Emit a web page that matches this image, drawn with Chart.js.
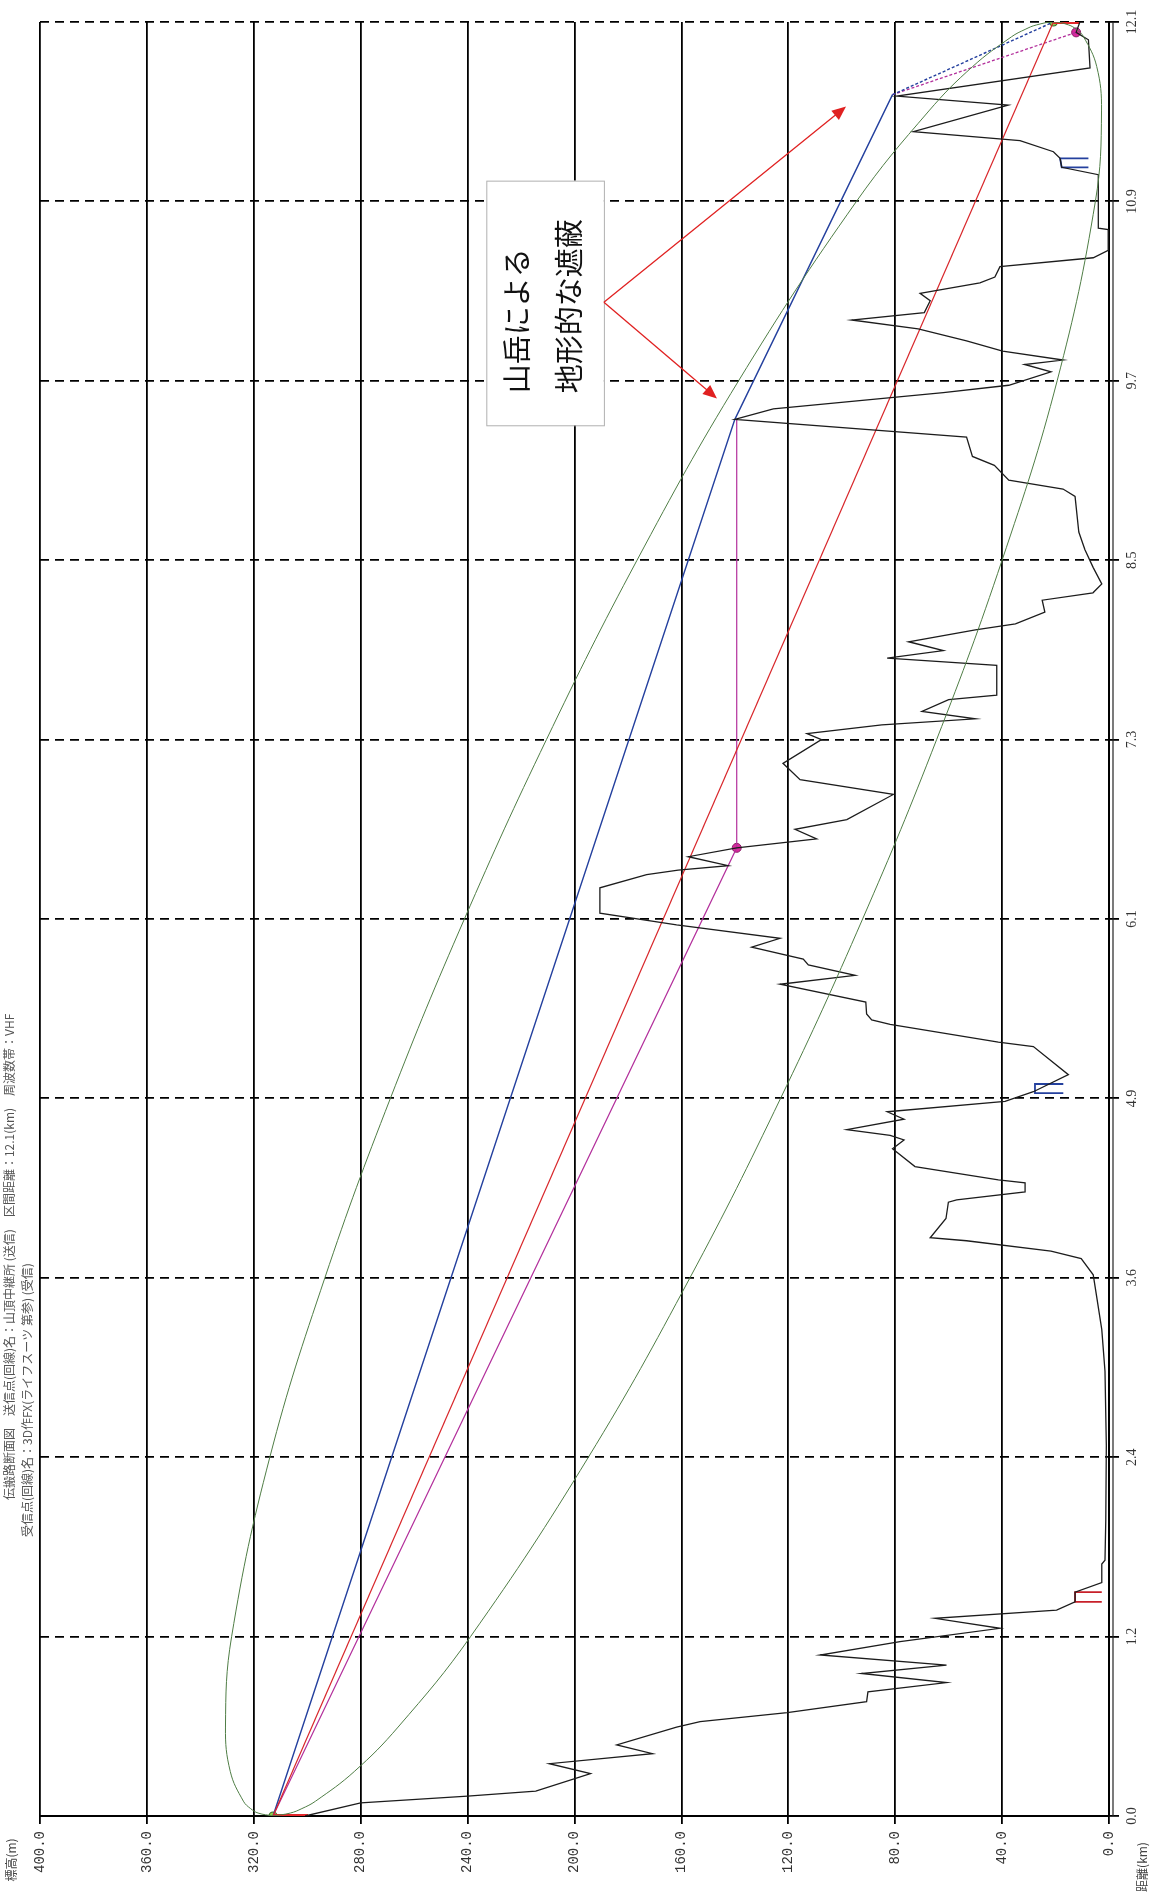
<!DOCTYPE html>
<html>
<head>
<meta charset="utf-8">
<script src="https://cdn.jsdelivr.net/npm/chart.js@4.4.1/dist/chart.umd.min.js"></script>
<style>
  html, body { margin: 0; padding: 0; background: #fff; }
  #wrap { width: 1160px; height: 1894px; position: relative; }
</style>
</head>
<body>
<div id="wrap"><canvas id="profileChart"></canvas></div>
<script>
// axes (chart is printed turned on its side: elevation runs left->right, distance bottom->top)
const elevTicks = [400, 360, 320, 280, 240, 200, 160, 120, 80, 40, 0];
const distTicks = [0, 1.21, 2.42, 3.63, 4.84, 6.05, 7.26, 8.47, 9.68, 10.89, 12.1];
const distTickLabels = ['0.0', '1.2', '2.4', '3.6', '4.9', '6.1', '7.3', '8.5', '9.7', '10.9', '12.1'];

// terrain profile
const profileDist = [0, 0.089, 0.134, 0.168, 0.286, 0.353, 0.42, 0.48, 0.60, 0.636, 0.697, 0.771, 0.837, 0.90, 0.961, 1.018, 1.086, 1.176, 1.266, 1.333, 1.388, 1.444, 1.51, 1.574, 1.70, 1.725, 2.0, 2.5, 3.0, 3.28, 3.49, 3.65, 3.76, 3.81, 3.88, 3.90, 4.03, 4.14, 4.155, 4.21, 4.27, 4.29, 4.38, 4.50, 4.56, 4.59, 4.63, 4.70, 4.75, 4.82, 4.885, 5.0, 5.19, 5.22, 5.34, 5.37, 5.41, 5.49, 5.61, 5.67, 5.74, 5.78, 5.86, 5.92, 6.01, 6.09, 6.26, 6.35, 6.38, 6.41, 6.47, 6.53, 6.59, 6.655, 6.72, 6.89, 6.99, 7.10, 7.26, 7.30, 7.36, 7.40, 7.45, 7.53, 7.56, 7.76, 7.81, 7.86, 7.92, 8.0, 8.04, 8.12, 8.20, 8.25, 8.31, 8.42, 8.54, 8.66, 8.90, 8.95, 9.01, 9.11, 9.17, 9.30, 9.42, 9.49, 9.60, 9.65, 9.74, 9.79, 9.82, 9.88, 9.95, 10.03, 10.09, 10.14, 10.22, 10.27, 10.34, 10.38, 10.45, 10.51, 10.56, 10.70, 10.71, 11.07, 11.12, 11.18, 11.225, 11.30, 11.36, 11.54, 11.60, 11.79, 11.98, 12.03, 12.1];
const profileElev = [300.8, 280, 240, 214.5, 194, 209.4, 170.8, 184.2, 161.8, 153.0, 120.4, 90.7, 90.2, 60.8, 92.6, 60.8, 108.1, 78.2, 40.8, 65.1, 19.6, 12.7, 12.7, 2.7, 2.7, 1.5, 1.2, 1.0, 1.5, 2.7, 4.5, 5.9, 10.4, 21.7, 53.3, 66.9, 61.0, 60.1, 57.0, 31.4, 31.4, 41.4, 72.6, 81.0, 76.7, 81.9, 98.1, 76.7, 83.0, 38.9, 28.3, 15.2, 28.3, 41.4, 81.9, 88.8, 90.7, 91.0, 123.1, 95.0, 112.5, 114.4, 133.7, 123.1, 161.8, 190.5, 190.5, 173.0, 161.2, 142.5, 157.4, 139.3, 109.4, 117.5, 98.1, 80.7, 115.6, 122, 107.6, 113, 85, 50, 70, 60, 42, 42, 83, 62, 75, 50, 35, 24, 25, 6, 2.7, 5.9, 9, 11.3, 12.7, 17.2, 37.5, 42.9, 51.1, 53.3, 140.0, 125.6, 62, 37.5, 21.7, 31.6, 17.2, 39.8, 53.3, 71.4, 96.3, 69.1, 66.9, 70.7, 48.3, 42.7, 40.8, 5.9, 0.3, 0.3, 4.0, 4.0, 17.7, 18.3, 20.8, 33.3, 73.2, 37.7, 79.4, 7.1, 7.7, 12.3, 10.9];

// green clearance ellipse, traced as one closed loop (upper side out, lower side back)
const fresnelDist = [0, 0.02, 0.05, 0.1, 0.3, 0.6, 1.21, 2.42, 3.63, 4.84, 6.05, 7.26, 8.47, 9.68, 10.89, 11.5, 11.8, 12.0, 12.05, 12.08, 12.1,
  12.08, 12.05, 12.0, 11.8, 11.5, 10.89, 9.68, 8.47, 7.26, 6.05, 4.84, 3.63, 2.42, 1.21, 0.6, 0.3, 0.1, 0.05, 0.02, 0];
const fresnelElev = [312.8, 318.4, 321.2, 323.9, 328.8, 330.6, 328.3, 314.0, 293.4, 268.9, 241.2, 210.5, 176.6, 138.6, 94.5, 67.4, 51.0, 36.5, 31.4, 27.2, 20.6,
  15.1, 12.2, 9.5, 4.6, 2.8, 5.1, 19.4, 40.0, 64.5, 92.2, 122.9, 156.8, 194.8, 238.9, 266.0, 282.4, 296.9, 302.0, 306.3, 312.8];

// path lines
const losDist = [0, 12.1];
const losElev = [312.8, 20.8];
const bluePathDist = [0, 9.42, 11.61];
const bluePathElev = [312.8, 140.0, 81.0];
const blueTailDist = [11.61, 12.1];
const blueTailElev = [81.0, 20.8];
const magentaPathDist = [0, 6.53, 9.42];
const magentaPathElev = [312.8, 139.3, 139.3];
const magentaTailDist = [11.61, 12.03];
const magentaTailElev = [81.0, 12.3];

// antenna bars and small marks
const antennaDist = [0, 0, null, 12.1, 12.1];
const antennaElev = [312.8, 299.7, null, 20.8, 10.9];
const redMarkDist = [1.51, 1.51, 1.444, 1.444];
const redMarkElev = [2.7, 12.7, 12.7, 2.7];
const blueMarkDist = [4.937, 4.937, 4.875, 4.875, null, 11.18, 11.18, 11.12, 11.12];
const blueMarkElev = [17.1, 27.7, 27.7, 17.1, null, 7.7, 18.3, 17.7, 7.7];

// stations and reflection points
const stationDist = [0, 12.1];
const stationElev = [312.8, 20.8];
const reflectDist = [6.53, 12.03];
const reflectElev = [139.3, 12.3];

// annotation (data units)
const noteBoxElev = [233, 189];
const noteBoxDist = [11.03, 9.38];
const noteLines = ['山岳による', '地形的な遮蔽'];
const arrowFrom = { elev: 189, dist: 10.21 };
const arrowTips = [{ elev: 98.4, dist: 11.53 }, { elev: 146.7, dist: 9.56 }];

const headerLines = [
  '伝搬路断面図　送信点(回線)名：山頂中継所 (送信)　区間距離：12.1(km)　周波数帯：VHF',
  '受信点(回線)名：3D作FX(ライフスーツ 第参) (受信)'
];

function pts(xs, ys) {
  return xs.map((d, i) => d === null ? { x: null, y: null } : { x: ys[i], y: d });
}

const sideText = {
  id: 'sideText',
  afterDraw(chart) {
    const ctx = chart.ctx;
    const xs = chart.scales.x, ys = chart.scales.y;
    const vtext = (t, x, y, align, font, color) => {
      ctx.save();
      ctx.translate(x, y);
      ctx.rotate(-Math.PI / 2);
      ctx.font = font;
      ctx.fillStyle = color || '#333';
      ctx.textAlign = align;
      ctx.textBaseline = 'middle';
      ctx.fillText(t, 0, 0);
      ctx.restore();
    };
    // distance labels on the right
    distTicks.forEach((v, i) => {
      vtext(distTickLabels[i], xs.right + 23, ys.getPixelForValue(v), 'center', '14px "Liberation Serif"');
    });
    vtext('距離(km)', xs.right + 33, 1867, 'center', '12px "Noto Sans CJK JP"', '#444');
    vtext('標高(m)', 11, 1860, 'center', '12px "Noto Sans CJK JP"', '#444');
    // header lines
    vtext(headerLines[0], 9, 1500, 'left', '12px "Noto Sans CJK JP"', '#555');
    vtext(headerLines[1], 27, 1537, 'left', '12px "Noto Sans CJK JP"', '#555');

    // annotation box
    const bx1 = xs.getPixelForValue(noteBoxElev[0]), bx2 = xs.getPixelForValue(noteBoxElev[1]);
    const by1 = ys.getPixelForValue(noteBoxDist[0]), by2 = ys.getPixelForValue(noteBoxDist[1]);
    ctx.save();
    ctx.fillStyle = '#fff';
    ctx.fillRect(bx1, by1, bx2 - bx1, by2 - by1);
    ctx.strokeStyle = '#b0b0b0';
    ctx.lineWidth = 1;
    ctx.strokeRect(bx1 + 0.5, by1 + 0.5, bx2 - bx1, by2 - by1);
    ctx.restore();
    const bottom = by2 - 32;
    vtext(noteLines[0], bx1 + 31, bottom, 'left', '29px "Noto Sans CJK JP"', '#111');
    vtext(noteLines[1], bx1 + 83, bottom, 'left', '29px "Noto Sans CJK JP"', '#111');

    // red arrows
    const fx = xs.getPixelForValue(arrowFrom.elev), fy = ys.getPixelForValue(arrowFrom.dist);
    arrowTips.forEach(t => {
      const tx = xs.getPixelForValue(t.elev), ty = ys.getPixelForValue(t.dist);
      const a = Math.atan2(ty - fy, tx - fx);
      ctx.save();
      ctx.strokeStyle = '#e02020';
      ctx.fillStyle = '#e02020';
      ctx.lineWidth = 1.3;
      ctx.beginPath();
      ctx.moveTo(fx, fy);
      ctx.lineTo(tx - 10 * Math.cos(a), ty - 10 * Math.sin(a));
      ctx.stroke();
      ctx.beginPath();
      ctx.moveTo(tx, ty);
      ctx.lineTo(tx - 14 * Math.cos(a) + 6 * Math.sin(a), ty - 14 * Math.sin(a) - 6 * Math.cos(a));
      ctx.lineTo(tx - 14 * Math.cos(a) - 6 * Math.sin(a), ty - 14 * Math.sin(a) + 6 * Math.cos(a));
      ctx.closePath();
      ctx.fill();
      ctx.restore();
    });

    // second rule of the doubled right frame
    ctx.save();
    ctx.strokeStyle = '#222';
    ctx.lineWidth = 1.2;
    ctx.beginPath();
    ctx.moveTo(xs.right + 4, ys.top);
    ctx.lineTo(xs.right + 4, ys.bottom);
    ctx.stroke();
    ctx.restore();
  }
};

const line = (data, color, width, extra) => Object.assign({
  data: data, showLine: true, borderColor: color, borderWidth: width,
  pointRadius: 0, fill: false, spanGaps: false, tension: 0
}, extra || {});

new Chart(document.getElementById('profileChart'), {
  type: 'scatter',
  data: {
    datasets: [
      line(pts(fresnelDist, fresnelElev), '#4f7d45', 1, { tension: 0.4 }),
      line(pts(profileDist, profileElev), '#1c1c1c', 1.3),
      line(pts(losDist, losElev), '#d8262a', 1.2),
      line(pts(magentaPathDist, magentaPathElev), '#b3309c', 1.2),
      line(pts(bluePathDist, bluePathElev), '#24409e', 1.4),
      line(pts(blueTailDist, blueTailElev), '#24409e', 1.4, { borderDash: [3, 2] }),
      line(pts(magentaTailDist, magentaTailElev), '#b3309c', 1.3, { borderDash: [3, 2] }),
      line(pts(redMarkDist, redMarkElev), '#c8202a', 1.8),
      line(pts(blueMarkDist, blueMarkElev), '#24409e', 1.8),
      line(pts(antennaDist, antennaElev), '#e3262a', 4),
      { data: pts(stationDist, stationElev), pointRadius: 4, pointBackgroundColor: '#8fcf4a', pointBorderColor: '#3b6b2a', pointBorderWidth: 1.2, showLine: false },
      { data: pts(reflectDist, reflectElev), pointRadius: 4.5, pointBackgroundColor: '#d8289c', pointBorderColor: '#8a1d66', pointBorderWidth: 1, showLine: false }
    ]
  },
  options: {
    responsive: true,
    maintainAspectRatio: false,
    animation: false,
    layout: { padding: { left: 40, top: 22, right: 0, bottom: 0 } },
    plugins: {
      legend: { display: false },
      tooltip: { enabled: false },
      title: { display: false }
    },
    scales: {
      x: {
        type: 'linear',
        position: 'bottom',
        reverse: true,
        min: 0,
        max: 400,
        afterBuildTicks: s => { s.ticks = elevTicks.map(v => ({ value: v })); },
        afterFit: s => { s.height = 78; },
        ticks: {
          minRotation: 90,
          maxRotation: 90,
          autoSkip: false,
          padding: 7,
          color: '#333',
          font: { family: '"Liberation Mono"', size: 14 },
          callback: v => v.toFixed(1)
        },
        grid: { color: '#000', lineWidth: 1.8, tickLength: 8 },
        border: { display: true, color: '#000', width: 2 }
      },
      y: {
        type: 'linear',
        position: 'right',
        min: 0,
        max: 12.1,
        afterBuildTicks: s => { s.ticks = distTicks.map(v => ({ value: v })); },
        afterFit: s => { s.width = 51; },
        ticks: { display: false },
        grid: { color: '#000', lineWidth: 1.8, tickLength: 10 },
        border: { display: true, color: '#000', width: 2, dash: [9, 6] }
      }
    }
  },
  plugins: [sideText]
});
</script>
</body>
</html>
